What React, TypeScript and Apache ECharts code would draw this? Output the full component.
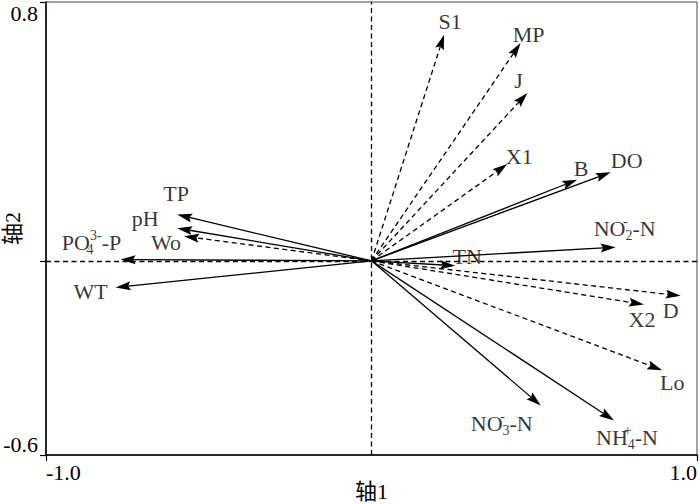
import React, { useEffect, useRef } from "react";
import * as echarts from "echarts";

// ---- data ----
const names = [
  "S1", "MP", "J", "X1", "B", "DO", "NO2", "TN", "D", "X2", "Lo",
  "NO3", "NH4", "TP", "pH", "Wo", "PO4", "WT",
];
const axis1 = [
  0.223, 0.458, 0.479, 0.417, 0.632, 0.735, 0.75, 0.257, 0.95, 0.837, 0.893,
  0.52, 0.745, -0.597, -0.597, -0.576, -0.771, -0.786,
];
const axis2 = [
  0.699, 0.673, 0.519, 0.299, 0.251, 0.274, 0.042, -0.015, -0.108, -0.135, -0.338,
  -0.447, -0.493, 0.143, 0.101, 0.076, 0.004, -0.082,
];
// 1 = dashed arrow (species), 0 = solid arrow (environment)
const dashedFlag = [1, 1, 1, 1, 0, 0, 0, 0, 1, 1, 1, 0, 0, 0, 0, 1, 0, 0];
const labelText: Record<string, string> = {
  S1: "S1", MP: "MP", J: "J", X1: "X1", B: "B", DO: "DO",
  NO2: "NO{sp0|-}{sb|2}-N", TN: "TN", D: "D", X2: "X2", Lo: "Lo",
  NO3: "NO{sp0|-}{sb|3}-N", NH4: "NH{sp0|+}{sb|4}-N",
  TP: "TP", pH: "pH", Wo: "Wo", PO4: "PO{sb0|4}{sp|3-}-P", WT: "WT",
};
const xTickLabels = [-1.0, 1.0];
const yTickLabels = [-0.6, 0.8];
const yTickMarks = [-0.6, 0, 0.8];
const xAxisName = "轴1";
const yAxisName = "轴2";

// ---- label placement (pixel offsets from arrow tips) ----
const labelOffset: Record<string, [number, number]> = {
  S1: [6, -13], MP: [8, -9], J: [-9, -12], X1: [12, -8], B: [4, -11],
  DO: [16, -12], NO2: [9, -19], TN: [12, -9], D: [-10, 15], X2: [-2, 15],
  Lo: [10, 12], NO3: [-39, 18], NH4: [13, 17], TP: [-1, -21], pH: [-32, -10],
  Wo: [-18, 6], PO4: [-29, -17], WT: [-25, 4],
};

const FONT = "'Liberation Serif', 'Times New Roman', 'Noto Sans CJK SC', serif";

export default function App() {
  const ref = useRef<HTMLDivElement>(null);
  useEffect(() => {
    if (!ref.current) return;
    const chart = echarts.init(ref.current, null, { renderer: "svg" });

    const arrowData = names.map((n, i) => [axis1[i], axis2[i], dashedFlag[i]]);
    const labelData = names.map((n, i) => ({
      name: n,
      value: [axis1[i], axis2[i]],
      label: { offset: labelOffset[n], formatter: labelText[n] },
    }));

    const renderItem = (params: any, api: any) => {
      const x = api.value(0);
      const y = api.value(1);
      const dashed = api.value(2) === 1;
      const o = api.coord([0, 0]);
      const t = api.coord([x, y]);
      const dx = t[0] - o[0];
      const dy = t[1] - o[1];
      const L = Math.hypot(dx, dy);
      const ux = dx / L, uy = dy / L;
      const px = -uy, py = ux;
      const hl = 15, hw = 4.5, notch = 2.5;
      const bx = t[0] - ux * hl, by = t[1] - uy * hl;
      const nx = t[0] - ux * (hl - notch), ny = t[1] - uy * (hl - notch);
      return {
        type: "group",
        children: [
          {
            type: "line",
            shape: { x1: o[0], y1: o[1], x2: nx, y2: ny },
            style: {
              stroke: "#000",
              lineWidth: 1.3,
              lineDash: dashed ? [5, 3.5] : null,
            },
          },
          {
            type: "polygon",
            shape: {
              points: [
                [t[0], t[1]],
                [bx + px * hw, by + py * hw],
                [nx, ny],
                [bx - px * hw, by - py * hw],
              ],
            },
            style: { fill: "#000" },
          },
        ],
      };
    };

    const subStyle = { fontSize: 14, fontFamily: FONT, color: "#000" };

    chart.setOption({
      animation: false,
      backgroundColor: "#fff",
      textStyle: { fontFamily: FONT },
      grid: {
        left: 46,
        right: 3,
        top: 2,
        bottom: 49,
        show: true,
        borderColor: "#444",
        borderWidth: 1,
        containLabel: false,
        outerBoundsMode: "none",
      },
      xAxis: {
        type: "value",
        min: -1,
        max: 1,
        interval: 2,
        name: xAxisName,
        nameLocation: "middle",
        nameGap: 25,
        nameMoveOverlap: false,
        nameTextStyle: { fontSize: 22, color: "#000", fontFamily: FONT },
        axisLine: { show: true, onZero: false, lineStyle: { color: "#000", width: 1.5 } },
        axisTick: { show: true, length: 6, lineStyle: { color: "#000", width: 1.2 } },
        splitLine: { show: false },
        axisLabel: {
          show: true,
          customValues: xTickLabels,
          formatter: (v: number) => v.toFixed(1),
          fontSize: 22,
          color: "#000",
          fontFamily: FONT,
          margin: 6,
          alignMinLabel: "left",
          alignMaxLabel: "right",
        },
      },
      yAxis: {
        type: "value",
        min: -0.6,
        max: 0.8,
        name: yAxisName,
        nameLocation: "middle",
        nameGap: 23,
        nameMoveOverlap: false,
        nameTextStyle: { fontSize: 22, color: "#000", fontFamily: FONT },
        axisLine: { show: true, onZero: false, lineStyle: { color: "#000", width: 1.5 } },
        axisTick: {
          show: true,
          length: 6,
          customValues: yTickMarks,
          lineStyle: { color: "#000", width: 1.2 },
        },
        splitLine: { show: false },
        axisLabel: {
          show: true,
          customValues: yTickLabels,
          formatter: (v: number) => v.toFixed(1),
          fontSize: 22,
          color: "#000",
          fontFamily: FONT,
          margin: 8,
          verticalAlignMinLabel: "bottom",
          verticalAlignMaxLabel: "top",
        },
      },
      series: [
        {
          type: "scatter",
          data: [],
          silent: true,
          markLine: {
            silent: true,
            symbol: "none",
            label: { show: false },
            lineStyle: { color: "#000", type: [5, 3.5], width: 1.3 },
            data: [{ xAxis: 0 }, { yAxis: 0 }],
          },
        },
        {
          type: "custom",
          renderItem,
          data: arrowData,
          clip: false,
          silent: true,
        },
        {
          type: "scatter",
          symbolSize: 0,
          silent: true,
          data: labelData,
          label: {
            show: true,
            position: "inside",
            color: "#000",
            fontSize: 22,
            lineHeight: 28,
            fontFamily: FONT,
            rich: {
              sb: { ...subStyle, verticalAlign: "bottom" },
              sb0: { ...subStyle, verticalAlign: "bottom", width: 0 },
              sp: { ...subStyle, verticalAlign: "top" },
              sp0: { ...subStyle, verticalAlign: "top", width: 0 },
            },
          },
        },
      ],
    });
    return () => chart.dispose();
  }, []);
  return (
    <div
      ref={ref}
      style={{ position: "fixed", left: 0, top: 0, width: 700, height: 504 }}
    />
  );
}
